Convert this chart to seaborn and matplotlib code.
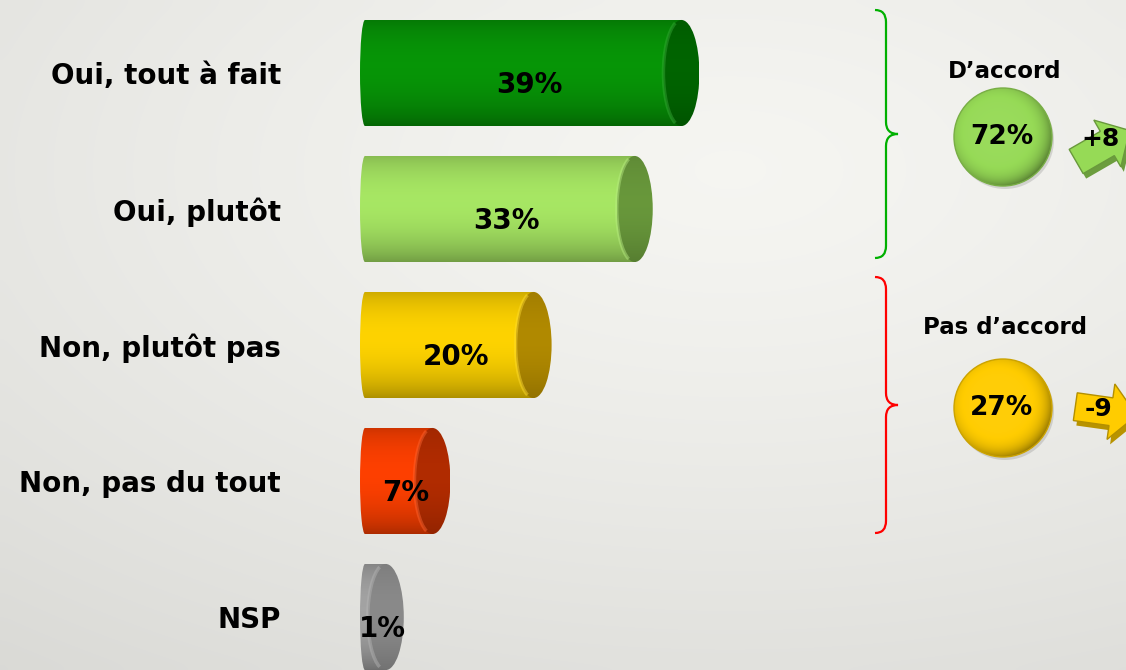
import numpy as np
import pandas as pd
import seaborn as sns
import matplotlib.pyplot as plt
from matplotlib.patches import Ellipse, Circle, Polygon, PathPatch, Arc, Rectangle
from matplotlib.path import Path
from matplotlib.colors import to_rgb

# data
categories = ['Oui, tout à fait', 'Oui, plutôt', 'Non, plutôt pas', 'Non, pas du tout', 'NSP']
values = [39, 33, 20, 7, 1]
bar_colors = ['#079607', '#a8e864', '#ffd400', '#ff4000', '#a4a4a4']
cap_colors = ['#006600', '#6a9a3c', '#b48c00', '#b42c00', '#8c8c8c']

groups = ['D’accord', 'Pas d’accord']
group_totals = [72, 27]
group_changes = ['+8', '-9']
group_colors = ['#96da56', '#ffcc00']
brace_colors = ['#00b000', '#ff0000']

sns.set_theme(style='white')
plt.rcParams['font.family'] = ['DejaVu Sans']

W, H = 1126, 670
px_per_pct = 7.78
zero_px = 378
left_px = 295


def shade(base, f):
    c = np.array(to_rgb(base))
    f = np.asarray(f)[..., None]
    dark = c * np.clip(f, 0, 1)
    light = c + (1 - c) * np.clip(f - 1, 0, 1)
    return np.where(f <= 1, dark, light)


fig = plt.figure(figsize=(W / 100, H / 100), dpi=100)

# background gradient
bg = fig.add_axes([0, 0, 1, 1])
u, v = np.meshgrid(np.linspace(0, 1, 113), np.linspace(0, 1, 67))
d = np.sqrt(((u - 0.65) / 1.0) ** 2 + ((v - 0.25) / 0.9) ** 2)
val = 0.962 - 0.1 * d ** 1.3
bg_img = np.dstack([val, val, val - 0.015])
bg.imshow(np.clip(bg_img, 0, 1), extent=(0, 1, 0, 1), aspect='auto',
          interpolation='bicubic', origin='upper')
bg.axis('off')

# main bars
ax = fig.add_axes([left_px / W, 0, 1 - left_px / W, 1])
ax.patch.set_alpha(0)
df = pd.DataFrame({'categorie': categories, 'pct': values})
sns.barplot(data=df, x='pct', y='categorie', hue='categorie', palette=bar_colors,
            orient='h', width=0.78, saturation=1, legend=False, ax=ax)

ew = 36 / px_per_pct      # cap ellipse width in data units
rw = 10 / px_per_pct      # rounding of the flat back end
t = np.linspace(0, 1, 120)
prof = 0.72 + 0.33 * np.sin(np.pi * (0.03 + 0.94 * t)) ** 0.6 - 0.12 * t

bars = sorted([p for p in ax.patches if p.get_width() > 0], key=lambda p: p.get_y())
for i, p in enumerate(bars):
    v = values[i]
    h = p.get_height()
    yc = p.get_y() + h / 2
    x1 = p.get_width()
    grad = shade(bar_colors[i], prof)[:, None, :]
    p.set_facecolor('none')
    p.set_edgecolor('none')
    p.set_zorder(2)

    # flat back end of the cylinder, slightly rounded
    x_back = -ew / 2
    back_r = Rectangle((x_back + rw / 2, yc - h / 2), -x_back - rw / 2, h,
                       facecolor='none', edgecolor='none', zorder=1)
    back_e = Ellipse((x_back + rw / 2, yc), rw, h, facecolor='none', edgecolor='none', zorder=1)
    for sh in (back_r, back_e):
        ax.add_patch(sh)
        im = ax.imshow(grad, extent=(x_back, 0.01, yc + h / 2, yc - h / 2),
                       aspect='auto', zorder=1, interpolation='bilinear')
        im.set_clip_path(sh)

    im = ax.imshow(grad, extent=(0, x1, yc + h / 2, yc - h / 2),
                   aspect='auto', zorder=2, interpolation='bilinear')
    im.set_clip_path(p)

    # front cap
    cap_prof = 0.9 + 0.12 * np.sin(np.pi * t) - 0.08 * t
    cap = Ellipse((x1, yc), ew, h, facecolor='none', edgecolor='none', zorder=3)
    ax.add_patch(cap)
    im = ax.imshow(shade(cap_colors[i], cap_prof)[:, None, :],
                   extent=(x1 - ew / 2, x1 + ew / 2, yc + h / 2, yc - h / 2),
                   aspect='auto', zorder=3, interpolation='bilinear')
    im.set_clip_path(cap)
    ax.add_patch(Arc((x1, yc), ew, h, theta1=155, theta2=205,
                     color=shade(bar_colors[i], 1.2), lw=2.5, alpha=0.45, zorder=4))

    ax.text(x1 / 2, yc + 0.09, f'{v}%', ha='center', va='center',
            fontsize=20, fontweight='bold', color='black', zorder=6)

ax.set_xlim((left_px - zero_px) / px_per_pct, (W - zero_px) / px_per_pct)
ax.set_ylim((H - 73) / 136, -73 / 136)
ax.set_xticks([])
ax.set_xlabel('')
ax.set_ylabel('')
ax.tick_params(axis='y', length=0, pad=10, labelsize=20)
for lbl in ax.get_yticklabels():
    lbl.set_fontweight('bold')
    lbl.set_color('black')
sns.despine(ax=ax, left=True, bottom=True)

# right-hand summary panel, in pixel coordinates
ov = fig.add_axes([0, 0, 1, 1])
ov.set_xlim(0, W)
ov.set_ylim(H, 0)
ov.axis('off')


def brace(axo, x0, y0, y1, color):
    xm, xt, ym, r = x0 + 11, x0 + 23, (y0 + y1) / 2, 12
    verts = [(x0, y0), (xm, y0), (xm, y0 + r), (xm, ym - r), (xm, ym), (xt, ym),
             (xm, ym), (xm, ym + r), (xm, y1 - r), (xm, y1), (x0, y1)]
    codes = [Path.MOVETO, Path.CURVE3, Path.CURVE3, Path.LINETO, Path.CURVE3, Path.CURVE3,
             Path.CURVE3, Path.CURVE3, Path.LINETO, Path.CURVE3, Path.CURVE3]
    axo.add_patch(PathPatch(Path(verts, codes), facecolor='none', edgecolor=color, lw=1.6))


def arrow(axo, cx, cy, ang, L, a, b, hl, fc, ec):
    pts = np.array([[-L / 2, -a], [L / 2 - hl, -a], [L / 2 - hl, -b], [L / 2, 0],
                    [L / 2 - hl, b], [L / 2 - hl, a], [-L / 2, a]])
    c, s = np.cos(np.deg2rad(ang)), np.sin(np.deg2rad(ang))
    X = cx + pts[:, 0] * c - pts[:, 1] * s
    Y = cy - (pts[:, 0] * s + pts[:, 1] * c)
    axo.add_patch(Polygon(np.column_stack([X, Y]), closed=True, facecolor=fc,
                          edgecolor=ec, lw=1, zorder=4))


brace_spans = [(10, 258), (277, 533)]
label_y = [72, 327]
circle_y = [137, 408]
arrow_specs = [(1103, 146, 30, 62, 14, 27, 26), (1106, 411, -8, 62, 14, 28, 26)]
text_pos = [(1101, 139), (1099, 409)]
cx, R = 1003, 49
gx, gy = np.meshgrid(np.linspace(-1, 1, 100), np.linspace(-1, 1, 100))
rr = np.sqrt((gx + 0.1) ** 2 + (gy + 0.1) ** 2)
for j in range(len(groups)):
    brace(ov, 875, brace_spans[j][0], brace_spans[j][1], brace_colors[j])
    ov.text(cx + 2, label_y[j], groups[j], ha='center', va='center',
            fontsize=16.5, fontweight='bold', color='black')
    cy = circle_y[j]
    ov.add_patch(Circle((cx + 2, cy + 3), R, facecolor='#000000', alpha=0.12,
                        edgecolor='none', zorder=1))
    circ = Circle((cx, cy), R, facecolor='none',
                  edgecolor=tuple(shade(group_colors[j], 0.8)), lw=1, zorder=3)
    ov.add_patch(circ)
    im = ov.imshow(shade(group_colors[j], 1.03 - 0.2 * np.clip(rr, 0, 1.3) ** 6),
                   extent=(cx - R, cx + R, cy + R, cy - R), aspect='auto',
                   interpolation='bilinear', zorder=2)
    im.set_clip_path(circ)
    ov.text(cx - 1, cy, f'{group_totals[j]}%', ha='center', va='center',
            fontsize=19, fontweight='bold', color='black', zorder=5)

    ax_, ay_, ang, L, a, b, hl = arrow_specs[j]
    arrow(ov, ax_ + 3, ay_ + 5, ang, L, a, b, hl, tuple(shade(group_colors[j], 0.72)), 'none')
    arrow(ov, ax_, ay_, ang, L, a, b, hl, group_colors[j], tuple(shade(group_colors[j], 0.7)))
    ov.text(text_pos[j][0], text_pos[j][1], group_changes[j], ha='center',
            va='center', fontsize=18, fontweight='bold', color='black', zorder=5)

ov.set_xlim(0, W)
ov.set_ylim(H, 0)

fig.savefig('out.png', dpi=100)
